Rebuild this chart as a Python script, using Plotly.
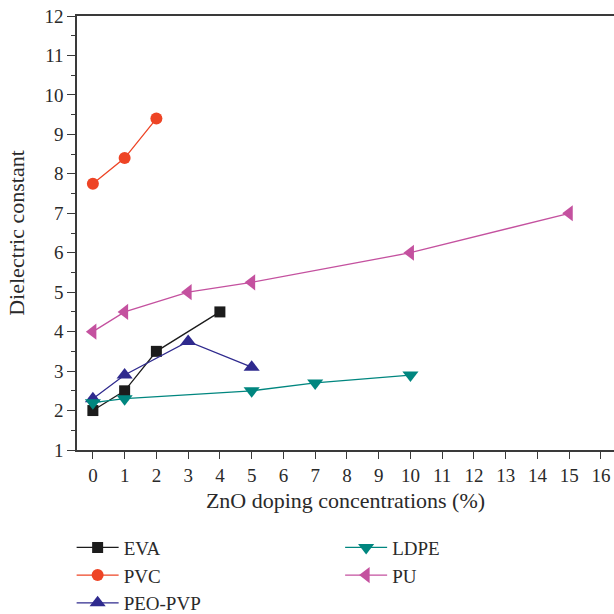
import plotly.graph_objects as go

eva_x = [0, 1, 2, 4]
eva_y = [2.0, 2.5, 3.5, 4.5]
pvc_x = [0, 1, 2]
pvc_y = [7.75, 8.4, 9.4]
peo_x = [0, 1, 3, 5]
peo_y = [2.3, 2.9, 3.75, 3.1]
ldpe_x = [0, 1, 5, 7, 10]
ldpe_y = [2.2, 2.3, 2.5, 2.7, 2.9]
pu_x = [0, 1, 3, 5, 10, 15]
pu_y = [4.0, 4.5, 5.0, 5.25, 6.0, 7.0]

x_ticks = list(range(0, 17))
y_ticks = list(range(1, 13))

FONT = "Liberation Serif"

fig = go.Figure()

def add(name, xs, ys, color, symbol, size, legend):
    fig.add_trace(go.Scatter(
        x=xs, y=ys, name=name, mode="lines+markers",
        line=dict(color=color, width=1.3),
        marker=dict(symbol=symbol, size=size, color=color, line=dict(width=0)),
        legend=legend, cliponaxis=False,
    ))

add("EVA", eva_x, eva_y, "#1c1c1c", "square", 11, "legend")
add("PVC", pvc_x, pvc_y, "#EE4425", "circle", 12, "legend")
add("PEO-PVP", peo_x, peo_y, "#2F2A8E", "triangle-up", 14, "legend")
add("LDPE", ldpe_x, ldpe_y, "#00867F", "triangle-down", 14, "legend2")
add("PU", pu_x, pu_y, "#C4519F", "triangle-left", 14, "legend2")

axis_color = "#3a3a3a"
fig.update_layout(
    width=614, height=614,
    margin=dict(l=77, r=0, t=16, b=164, autoexpand=False),
    plot_bgcolor="white", paper_bgcolor="white",
    font=dict(family=FONT, size=19, color="#2a2a2a"),
    xaxis=dict(
        range=[-0.5, 16.41], tickvals=x_ticks, ticktext=[str(v) for v in x_ticks],
        ticks="outside", ticklen=7, tickwidth=1.2, tickcolor=axis_color,
        showline=True, linecolor=axis_color, linewidth=1.5, mirror=True,
        showgrid=False, zeroline=False, ticklabeloverflow="allow",
        title=dict(text="ZnO doping concentrations (%)", font=dict(size=22), standoff=8),
        tickfont=dict(size=19), automargin=False,
    ),
    yaxis=dict(
        range=[1, 12.0001], tickvals=y_ticks, ticktext=[str(v) for v in y_ticks],
        ticks="outside", ticklen=8, tickwidth=1.2, tickcolor=axis_color,
        minor=dict(ticks="outside", ticklen=4, tickwidth=1.2, tickcolor=axis_color, dtick=0.5, showgrid=False),
        showline=True, linecolor=axis_color, linewidth=1.5,
        showgrid=False, zeroline=False, ticklabeloverflow="allow",
        title=dict(text="Dielectric constant", font=dict(size=22), standoff=14),
        tickfont=dict(size=19), automargin=False,
    ),
    legend=dict(
        x=-0.01, xanchor="left", y=-0.181, yanchor="top",
        font=dict(size=19), bgcolor="rgba(0,0,0,0)", tracegroupgap=0,
        itemwidth=42,
    ),
    legend2=dict(
        x=0.49, xanchor="left", y=-0.181, yanchor="top",
        font=dict(size=19), bgcolor="rgba(0,0,0,0)", tracegroupgap=0,
        itemwidth=42,
    ),
    showlegend=True,
)

fig.write_html(
    "out.html",
    config={"displayModeBar": False},
    post_script="document.body.style.margin='0';document.body.style.overflow='hidden';",
)
